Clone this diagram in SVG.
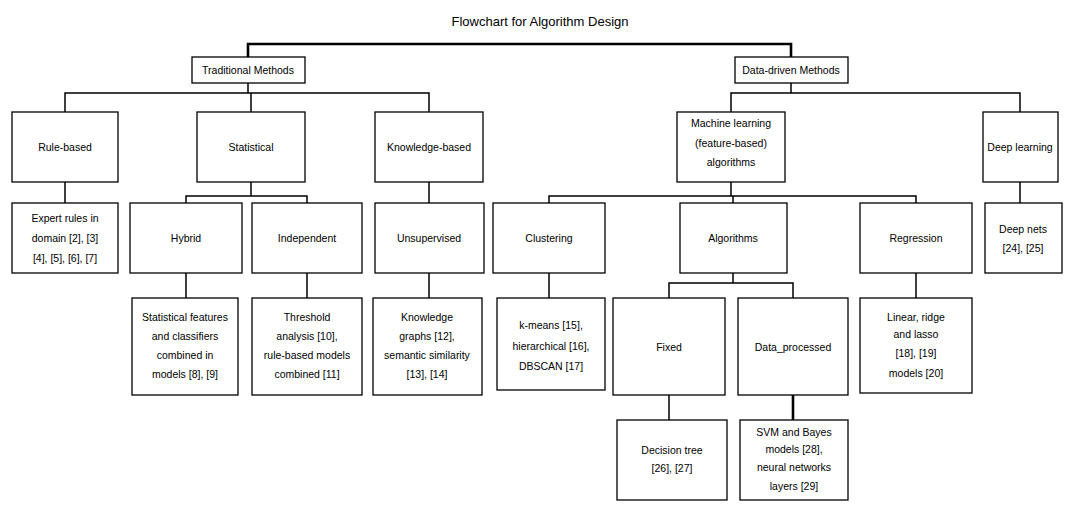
<svg xmlns="http://www.w3.org/2000/svg" width="1086" height="506" viewBox="0 0 1086 506">
<style>
.bg{fill:#fff}
.box{fill:#fff;stroke:#000;stroke-width:1.3}
.lbl{font-family:"Liberation Sans",Arial,sans-serif;font-size:10.5px;fill:#000;text-anchor:middle}
.title{font-family:"Liberation Sans",Arial,sans-serif;font-size:13px;fill:#000;text-anchor:middle}
.con{fill:none;stroke:#000;stroke-width:1.5}
.thick{fill:none;stroke:#000;stroke-width:2.6}
</style>
<rect class="bg" x="0" y="0" width="1086" height="506"/>
<text class="title" x="540" y="26">Flowchart for Algorithm Design</text>
<g id="connectors">
<path class="thick" d="M248 57 V44 H791 V57"/>
<path class="con" d="M248 83 V93 M65 112 V93 H429 V112 M251 93 V112"/>
<path class="con" d="M791 83 V93 M731 112 V93 H1020 V112"/>
<path class="con" d="M65 182 V203"/>
<path class="con" d="M251 182 V196 M186 203 V196 H307 V203"/>
<path class="con" d="M429 182 V203"/>
<path class="con" d="M731 182 V196 M549 203 V196 H916 V203 M733 196 V203"/>
<path class="con" d="M1020 182 V203"/>
<path class="con" d="M186 273 V298 M307 273 V298 M429 273 V298"/>
<path class="con" d="M549 273 V298 M916 273 V298"/>
<path class="con" d="M733 273 V283 M669 298 V283 H793 V298"/>
<path class="con" d="M669 395 V420"/>
<path class="thick" d="M793 395 V420"/>
</g>
<g id="n_trad"><rect class="box" x="192" y="57" width="113" height="26"/><text class="lbl" x="248" y="74">Traditional Methods</text></g>
<g id="n_data"><rect class="box" x="735" y="57" width="113" height="26"/><text class="lbl" x="791" y="74">Data-driven Methods</text></g>
<g id="n_rule"><rect class="box" x="12" y="112" width="106" height="70"/><text class="lbl" x="65" y="151">Rule-based</text></g>
<g id="n_stat"><rect class="box" x="197" y="112" width="108" height="70"/><text class="lbl" x="251" y="151">Statistical</text></g>
<g id="n_know"><rect class="box" x="375" y="112" width="108" height="70"/><text class="lbl" x="429" y="151">Knowledge-based</text></g>
<g id="n_ml"><rect class="box" x="677" y="112" width="108" height="70"/><text class="lbl" x="731" y="127">Machine learning</text><text class="lbl" x="731" y="147">(feature-based)</text><text class="lbl" x="731" y="166">algorithms</text></g>
<g id="n_dl"><rect class="box" x="983" y="112" width="75" height="70"/><text class="lbl" x="1020" y="151">Deep learning</text></g>
<g id="n_rule_leaf"><rect class="box" x="12" y="203" width="106" height="70"/><text class="lbl" x="65" y="222">Expert rules in</text><text class="lbl" x="65" y="242">domain [2], [3]</text><text class="lbl" x="65" y="262">[4], [5], [6], [7]</text></g>
<g id="n_hybrid"><rect class="box" x="130" y="203" width="112" height="70"/><text class="lbl" x="186" y="242">Hybrid</text></g>
<g id="n_indep"><rect class="box" x="252" y="203" width="110" height="70"/><text class="lbl" x="307" y="242">Independent</text></g>
<g id="n_unsup"><rect class="box" x="375" y="203" width="109" height="70"/><text class="lbl" x="429" y="242">Unsupervised</text></g>
<g id="n_clust"><rect class="box" x="493" y="203" width="112" height="70"/><text class="lbl" x="549" y="242">Clustering</text></g>
<g id="n_algo"><rect class="box" x="680" y="203" width="107" height="70"/><text class="lbl" x="733" y="242">Algorithms</text></g>
<g id="n_regr"><rect class="box" x="860" y="203" width="112" height="70"/><text class="lbl" x="916" y="242">Regression</text></g>
<g id="n_dl_leaf"><rect class="box" x="985" y="203" width="77" height="70"/><text class="lbl" x="1023" y="233">Deep nets</text><text class="lbl" x="1023" y="252">[24], [25]</text></g>
<g id="n_hybrid_leaf"><rect class="box" x="132" y="298" width="106" height="97"/><text class="lbl" x="185" y="321">Statistical features</text><text class="lbl" x="185" y="340">and classifiers</text><text class="lbl" x="185" y="359">combined in</text><text class="lbl" x="185" y="378">models [8], [9]</text></g>
<g id="n_indep_leaf"><rect class="box" x="252" y="298" width="110" height="97"/><text class="lbl" x="307" y="321">Threshold</text><text class="lbl" x="307" y="340">analysis [10],</text><text class="lbl" x="307" y="359">rule-based models</text><text class="lbl" x="307" y="378">combined [11]</text></g>
<g id="n_unsup_leaf"><rect class="box" x="373" y="298" width="109" height="97"/><text class="lbl" x="427" y="321">Knowledge</text><text class="lbl" x="427" y="340">graphs [12],</text><text class="lbl" x="427" y="359">semantic similarity</text><text class="lbl" x="427" y="378">[13], [14]</text></g>
<g id="n_clust_leaf"><rect class="box" x="497" y="298" width="108" height="92"/><text class="lbl" x="551" y="329">k-means [15],</text><text class="lbl" x="551" y="350">hierarchical [16],</text><text class="lbl" x="551" y="370">DBSCAN [17]</text></g>
<g id="n_fixed"><rect class="box" x="613" y="298" width="112" height="97"/><text class="lbl" x="669" y="351">Fixed</text></g>
<g id="n_dataproc"><rect class="box" x="738" y="298" width="110" height="97"/><text class="lbl" x="793" y="351">Data_processed</text></g>
<g id="n_regr_leaf"><rect class="box" x="860" y="298" width="112" height="95"/><text class="lbl" x="916" y="321">Linear, ridge</text><text class="lbl" x="916" y="338">and lasso</text><text class="lbl" x="916" y="357">[18], [19]</text><text class="lbl" x="916" y="377">models [20]</text></g>
<g id="n_fixed_leaf"><rect class="box" x="617" y="420" width="110" height="80"/><text class="lbl" x="672" y="454">Decision tree</text><text class="lbl" x="672" y="472">[26], [27]</text></g>
<g id="n_dataproc_leaf"><rect class="box" x="740" y="420" width="108" height="80"/><text class="lbl" x="794" y="436">SVM and Bayes</text><text class="lbl" x="794" y="453">models [28],</text><text class="lbl" x="794" y="471">neural networks</text><text class="lbl" x="794" y="490">layers [29]</text></g>
</svg>
